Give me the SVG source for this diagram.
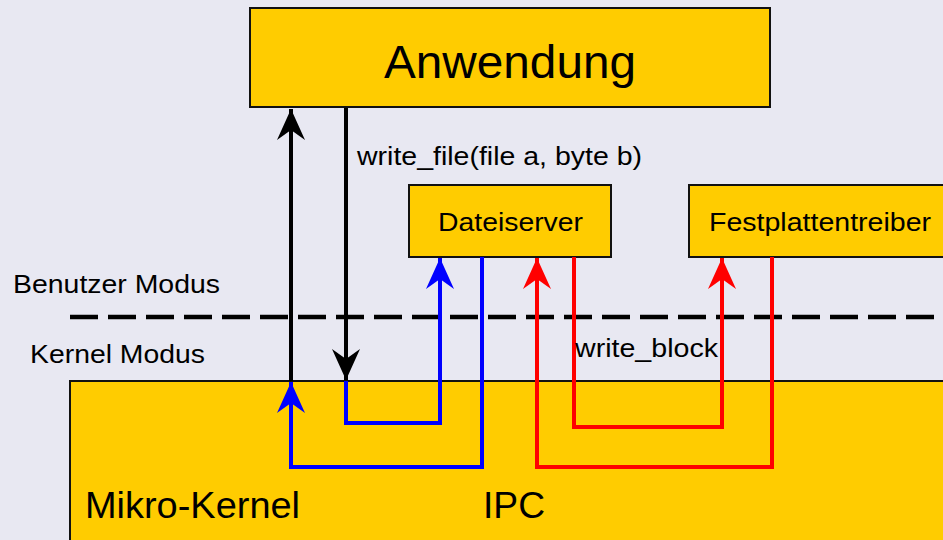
<svg xmlns="http://www.w3.org/2000/svg" width="943" height="540" viewBox="0 0 943 540">
<defs>
<style>
.box{fill:#FFCC00;stroke:#111;stroke-width:2}
.t{font-family:"Liberation Sans",Arial,sans-serif;fill:#000}
.k{fill:none;stroke:#000;stroke-width:4}
.b{fill:none;stroke:#0000FF;stroke-width:4}
.r{fill:none;stroke:#FF0000;stroke-width:4}
</style>
<marker id="ak" markerUnits="userSpaceOnUse" orient="auto" markerWidth="34" markerHeight="30" refX="32" refY="15" viewBox="0 0 34 30"><path d="M32,15 L1,1 L11,15 L1,29 Z" fill="#000"/></marker>
<marker id="ab" markerUnits="userSpaceOnUse" orient="auto" markerWidth="34" markerHeight="30" refX="32" refY="15" viewBox="0 0 34 30"><path d="M32,15 L1,1 L11,15 L1,29 Z" fill="#0000FF"/></marker>
<marker id="ar" markerUnits="userSpaceOnUse" orient="auto" markerWidth="34" markerHeight="30" refX="32" refY="15" viewBox="0 0 34 30"><path d="M32,15 L1,1 L11,15 L1,29 Z" fill="#FF0000"/></marker>
</defs>
<rect width="943" height="540" fill="#E8E8F2"/>
<g id="kernel">
<rect class="box" x="70" y="381" width="890" height="180"/>
<text class="t" x="85" y="518" font-size="36" textLength="215" lengthAdjust="spacingAndGlyphs">Mikro-Kernel</text>
<text class="t" x="483" y="518" font-size="36" textLength="62" lengthAdjust="spacingAndGlyphs">IPC</text>
</g>
<g id="anwendung">
<rect class="box" x="250" y="8" width="520" height="99"/>
<text class="t" x="384" y="78" font-size="46" textLength="252" lengthAdjust="spacingAndGlyphs">Anwendung</text>
</g>
<g id="dateiserver">
<rect class="box" x="409" y="185" width="202" height="72"/>
<text class="t" x="438" y="231" font-size="26" textLength="145" lengthAdjust="spacingAndGlyphs">Dateiserver</text>
</g>
<g id="festplattentreiber">
<rect class="box" x="689" y="185" width="270" height="72"/>
<text class="t" x="709" y="231" font-size="26" textLength="222" lengthAdjust="spacingAndGlyphs">Festplattentreiber</text>
</g>
<g id="labels">
<text class="t" x="13" y="293" font-size="26" textLength="207" lengthAdjust="spacingAndGlyphs">Benutzer Modus</text>
<text class="t" x="30" y="363" font-size="26" textLength="175" lengthAdjust="spacingAndGlyphs">Kernel Modus</text>
</g>
<line x1="70" y1="317" x2="943" y2="317" stroke="#000" stroke-width="4.5" stroke-dasharray="28 10"/>
<g id="connectors">
<path class="k" d="M291,381 L291,109" marker-end="url(#ak)"/>
<path class="k" d="M346,108 L346,380" marker-end="url(#ak)"/>
<path class="b" d="M346,381 L346,423 L440,423 L440,258" marker-end="url(#ab)"/>
<path class="b" d="M482,257 L482,467 L291,467 L291,382" marker-end="url(#ab)"/>
<path class="r" d="M574,257 L574,427 L722,427 L722,258" marker-end="url(#ar)"/>
<path class="r" d="M772,257 L772,467 L537,467 L537,258" marker-end="url(#ar)"/>
<text class="t" x="357" y="165" font-size="25" textLength="285" lengthAdjust="spacingAndGlyphs">write_file(file a, byte b)</text>
<text class="t" x="575" y="357" font-size="25" textLength="143" lengthAdjust="spacingAndGlyphs">write_block</text>
</g>
</svg>
